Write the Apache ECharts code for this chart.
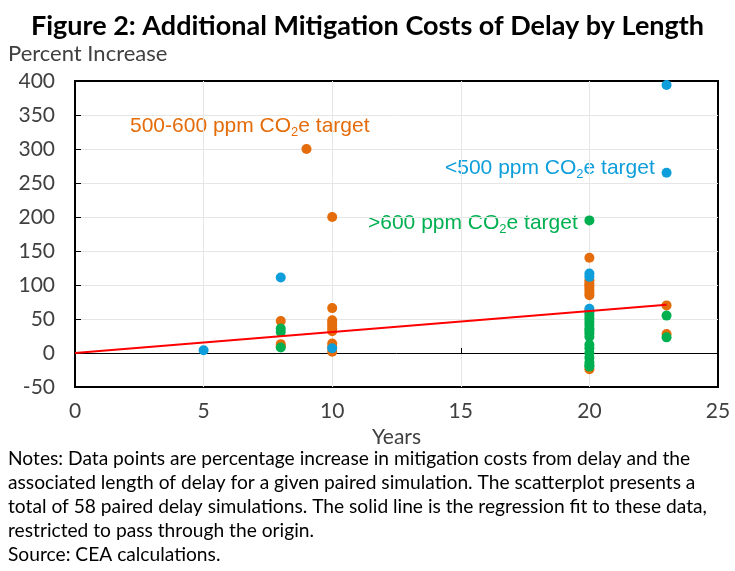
<!DOCTYPE html>
<html>
<head>
<meta charset="utf-8">
<script src="https://cdn.jsdelivr.net/npm/echarts@6/dist/echarts.min.js"></script>
<style>
  html, body { margin: 0; padding: 0; background: #fff; }
  #chart { width: 735px; height: 571px; }
</style>
</head>
<body>
<div id="chart"></div>
<script>
// 延迟年数与成本增加（百分比），按目标浓度分组
const midTarget = [ // 500-600 ppm
  [8, 47], [8, 13], [8, 10], [9, 300], [10, 200], [10, 66], [10, 48], [10, 44], [10, 40],
  [10, 36], [10, 32], [10, 14], [10, 9], [10, 2], [20, 140], [20, 107], [20, 103],
  [20, 100], [20, 97], [20, 93], [20, 89], [20, 85], [20, 62], [20, -24], [23, 70], [23, 28]
];
const lowTarget = [ // <500 ppm
  [5, 4], [8, 111], [10, 7], [20, 117], [20, 112], [20, 65], [20, 60], [23, 394], [23, 265]
];
const highTarget = [ // >600 ppm
  [8, 36], [8, 31], [8, 8], [20, 195], [20, 56], [20, 51], [20, 46], [20, 41], [20, 36],
  [20, 33], [20, 29], [20, 24], [20, 12], [20, 7], [20, 0], [20, -7], [20, -14], [20, -18],
  [20, -20], [23, 55], [23, 23]
];
const fitYears = [0, 23];
const fitValues = [0, 71];

const notes = [
  "Notes: Data points are percentage increase in mitigation costs from delay and the",
  "associated length of delay for a given paired simulation. The scatterplot presents a",
  "total of 58 paired delay simulations. The solid line is the regression fit to these data,",
  "restricted to pass through the origin.",
  "Source: CEA calculations."
];

const chart = echarts.init(document.getElementById("chart"));
const labelFont = "Lato";
const co2Rich = (color) => ({
  t: { fontFamily: "Liberation Sans", fontSize: 21, fill: color },
  s: { fontFamily: "Liberation Sans", fontSize: 13, fill: color, padding: [12, 0, 0, 0] }
});

chart.setOption({
  animation: false,
  title: {
    text: "Figure 2: Additional Mitigation Costs of Delay by Length",
    left: "center",
    top: 8,
    textStyle: { fontFamily: labelFont, fontWeight: "bold", fontSize: 27, color: "#000" }
  },
  grid: {
    left: 75, right: 17, top: 81, bottom: 184,
    show: true, borderColor: "#000", borderWidth: 2, backgroundColor: "transparent"
  },
  xAxis: [
    {
      type: "value", min: 0, max: 25, interval: 5,
      name: "Years", nameLocation: "middle", nameGap: 40,
      nameTextStyle: { fontFamily: labelFont, fontSize: 21, color: "#404040" },
      axisLine: { show: false, onZero: false },
      axisTick: { show: false },
      axisLabel: { fontFamily: labelFont, fontSize: 21, color: "#404040", margin: 14 },
      splitLine: { showMinLine: false, showMaxLine: false, lineStyle: { color: "#e6e6e6", width: 1 } }
    },
    {
      type: "value", min: 0, max: 25, interval: 5, position: "bottom",
      axisLine: { onZero: true, lineStyle: { color: "#000", width: 1 } },
      axisTick: { inside: true, length: 5, lineStyle: { color: "#000" } },
      axisLabel: { show: false },
      splitLine: { show: false }
    }
  ],
  yAxis: {
    type: "value", min: -50, max: 400, interval: 50,
    name: "Percent Increase", nameLocation: "end", nameGap: 16,
    nameTextStyle: { fontFamily: labelFont, fontSize: 22, color: "#404040", align: "left", padding: [0, 0, 0, -67] },
    axisLine: { onZero: false, lineStyle: { color: "#000", width: 2 } },
    axisTick: { inside: true, length: 6, lineStyle: { color: "#000" } },
    axisLabel: { fontFamily: labelFont, fontSize: 21, color: "#404040", margin: 20 },
    splitLine: { showMinLine: false, showMaxLine: false, lineStyle: { color: "#e6e6e6", width: 1 } }
  },
  series: [
    { type: "scatter", data: midTarget, symbolSize: 10, itemStyle: { color: "#E46C0A", opacity: 1 } },
    { type: "scatter", data: lowTarget, symbolSize: 10, itemStyle: { color: "#0E9EDB", opacity: 1 } },
    { type: "scatter", data: highTarget, symbolSize: 10, itemStyle: { color: "#00B050", opacity: 1 } },
    {
      type: "line", data: fitYears.map((x, i) => [x, fitValues[i]]),
      symbol: "none", lineStyle: { color: "#FF0000", width: 2 }
    }
  ],
  graphic: [
    {
      type: "text", left: 130, top: 116,
      style: { text: "{t|500-600 ppm CO}{s|2}{t|e target}", rich: co2Rich("#E46C0A") }
    },
    {
      type: "text", left: 445, top: 158,
      style: { text: "{t|<500 ppm CO}{s|2}{t|e target}", rich: co2Rich("#0E9EDB") }
    },
    {
      type: "text", left: 368, top: 213,
      style: { text: "{t|>600 ppm CO}{s|2}{t|e target}", rich: co2Rich("#00B050") }
    },
    {
      type: "text", left: 8, top: 447,
      style: { text: notes.join("\n"), fontFamily: labelFont, fontSize: 19.2, lineHeight: 24, fill: "#000" }
    }
  ]
});
</script>
</body>
</html>
